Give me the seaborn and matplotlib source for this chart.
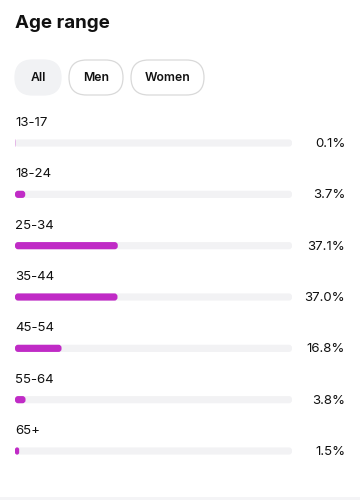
import pandas as pd
import numpy as np
import matplotlib.pyplot as plt
import seaborn as sns
from matplotlib.patches import FancyBboxPatch

# data
age_groups = ['13-17', '18-24', '25-34', '35-44', '45-54', '55-64', '65+']
share = [0.1, 3.7, 37.1, 37.0, 16.8, 3.8, 1.5]
share_labels = ['0.1%', '3.7%', '37.1%', '37.0%', '16.8%', '3.8%', '1.5%']
tabs = ['All', 'Men', 'Women']

df = pd.DataFrame({'age': age_groups, 'share': share, 'track': [100] * len(share)})

sns.set_theme(style='white')
plt.rcParams['font.family'] = ['Inter', 'DejaVu Sans']

fig = plt.figure(figsize=(3.6, 5), dpi=100)

# overlay in pixel coords for header stuff
bg = fig.add_axes([0, 0, 1, 1])
bg.set_xlim(0, 360)
bg.set_ylim(500, 0)
bg.axis('off')
bg.text(15, 24, 'Age range', fontsize=13.5, fontweight='bold', color='#111111', va='center', ha='left')

pills = [(15, 61), (69, 123), (131, 204)]
for (x0, x1), name in zip(pills, tabs):
    active = name == 'All'
    p = FancyBboxPatch((x0, 60), x1 - x0, 35,
                       boxstyle='round,pad=0,rounding_size=17.5',
                       fc='#f1f2f4' if active else 'white',
                       ec='#f1f2f4' if active else '#d9d9d9', lw=0.9)
    bg.add_patch(p)
    bg.text((x0 + x1) / 2, 78, name, fontsize=8.8, fontweight='semibold', color='#111111',
            ha='center', va='center')
bg.add_patch(plt.Rectangle((0, 497), 360, 3, fc='#f4f4f6', ec='none'))

# bar chart area
ax = fig.add_axes([15 / 360, 1 - 476.67 / 500, 277 / 360, 359.33 / 500])
sns.barplot(data=df, x='track', y='age', color='#f2f2f4', width=0.14, ax=ax, saturation=1)
sns.barplot(data=df, x='share', y='age', color='#c02bc6', width=0.14, ax=ax, saturation=1)
ax.set_xlim(0, 100)
ax.set_ylim(6.5, -0.5)

# swap the flat rectangles for rounded ones
asp = (7 / 359.33) / (100 / 277)
for bar in list(ax.patches):
    x, y = bar.get_x(), bar.get_y()
    w, h = bar.get_width(), bar.get_height()
    r = min(1.1, w / 2)
    rb = FancyBboxPatch((x, y), w, h, boxstyle=f'round,pad=0,rounding_size={r}',
                        mutation_aspect=asp, fc=bar.get_facecolor(), ec='none')
    bar.remove()
    ax.add_patch(rb)

for i, (name, lab) in enumerate(zip(age_groups, share_labels)):
    ax.text(0, i - 0.39, name, fontsize=9.5, color='#111111', ha='left', va='center')
    ax.text(1.192, i + 0.02, lab, fontsize=9.5, color='#111111', ha='right', va='center',
            transform=ax.get_yaxis_transform())

ax.set_xlabel('')
ax.set_ylabel('')
ax.set_xticks([])
ax.set_yticks([])
sns.despine(ax=ax, left=True, bottom=True)
ax.patch.set_alpha(0)

fig.savefig('out.png', dpi=100)
